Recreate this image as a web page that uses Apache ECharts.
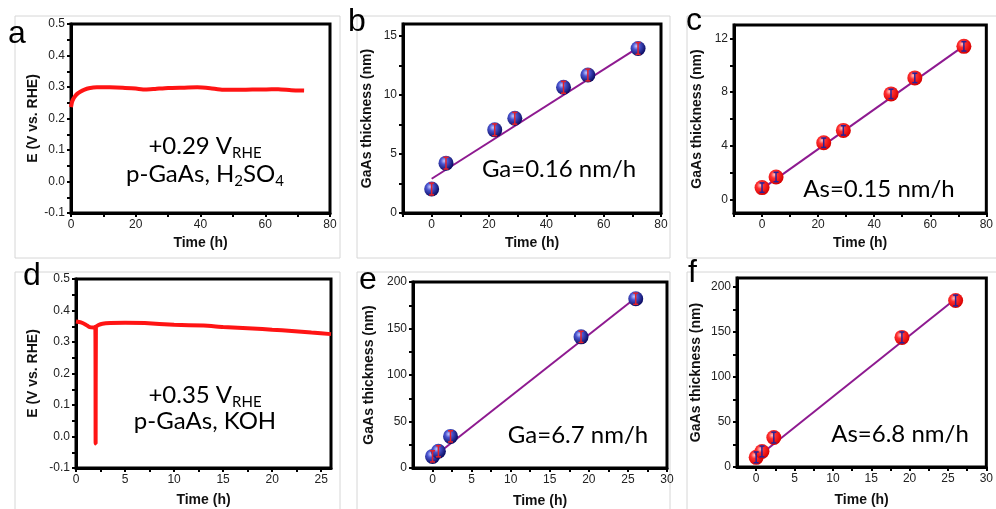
<!DOCTYPE html>
<html>
<head>
<meta charset="utf-8">
<script src="https://cdn.jsdelivr.net/npm/echarts@6/dist/echarts.min.js"></script>
<style>
  html, body { margin: 0; padding: 0; background: #fff; }
  #chart { width: 996px; height: 509px; }
</style>
</head>
<body>
<div id="chart"></div>
<script>
// ---- data ----
// a: potential vs time, H2SO4
var timeA = [0, 0.3, 0.7, 1.2, 2, 3, 4, 5.5, 8, 12, 16, 20, 23, 26, 30, 35, 39, 43, 47, 52, 56, 60, 64, 68, 72];
var potA = [0.236, 0.252, 0.262, 0.27, 0.279, 0.286, 0.291, 0.296, 0.299, 0.299, 0.298, 0.295, 0.292, 0.294, 0.297, 0.298, 0.299, 0.296, 0.291, 0.291, 0.292, 0.292, 0.293, 0.290, 0.289];
// d: potential vs time, KOH
var timeD = [0, 0.5, 1, 1.4, 1.8, 1.97, 2.0, 2.03, 2.3, 2.7, 3.5, 5, 7, 10, 13, 15, 18, 20, 22, 24, 26];
var potD = [0.365, 0.362, 0.355, 0.347, 0.346, 0.348, -0.022, 0.348, 0.354, 0.358, 0.36, 0.361, 0.36, 0.355, 0.352, 0.348, 0.343, 0.339, 0.335, 0.33, 0.325];

// b, c: thickness in H2SO4
var timeBC = [0, 5, 22, 29, 46, 54.5, 72];
var gaB = [2.03, 4.22, 7.04, 8.02, 10.64, 11.68, 13.93];
var gaBErr = [0.5, 0.5, 0.5, 0.5, 0.5, 0.5, 0.5];
var fitB = [[0, 2.9], [72, 14.0]];
var asC = [0.89, 1.68, 4.23, 5.15, 7.87, 9.06, 11.41];
var asCErr = [0.35, 0.35, 0.35, 0.35, 0.35, 0.35, 0.35];
var fitC = [[0, 0.8], [72, 11.45]];

// e, f: thickness in KOH
var timeEF = [0, 0.75, 2.3, 19, 26];
var gaE = [12.5, 18, 34, 141, 182];
var gaEErr = [6, 6, 6, 6, 6];
var fitE = [[0, 11], [26, 183]];
var asF = [10.7, 17.3, 32.7, 144, 185];
var asFErr = [6, 6, 6, 6, 6];
var fitF = [[0, 10], [26, 187]];

// tick labels / tick positions
var xLab80 = [0, 20, 40, 60, 80], xTick80 = [0, 10, 20, 30, 40, 50, 60, 70, 80];
var xLab80b = [0, 20, 40, 60, 80], xTick80b = [-10, 0, 10, 20, 30, 40, 50, 60, 70, 80];
var xLab25 = [0, 5, 10, 15, 20, 25], xTick25 = [0, 2.5, 5, 7.5, 10, 12.5, 15, 17.5, 20, 22.5, 25];
var xLab30 = [0, 5, 10, 15, 20, 25, 30], xTick30 = [0, 2.5, 5, 7.5, 10, 12.5, 15, 17.5, 20, 22.5, 25, 27.5, 30];
var yLabB = [0, 5, 10, 15], yTickB = [0, 2.5, 5, 7.5, 10, 12.5, 15];
var yLabC = [0, 4, 8, 12], yTickC = [0, 2, 4, 6, 8, 10, 12];
var yLab200 = [0, 50, 100, 150, 200], yTick200 = [0, 25, 50, 75, 100, 125, 150, 175, 200];

var chart = echarts.init(document.getElementById('chart'));

var FONT = "'Liberation Sans', Arial, sans-serif";
var ANNO = "Lato, 'Open Sans', sans-serif";

function zip(xs, ys) {
  return xs.map(function (x, i) { return [x, ys[i]]; });
}

function grid(left, top, width, height) {
  return { left: left, top: top, width: width, height: height, show: true, borderColor: '#000', borderWidth: 3, containLabel: false };
}

function axis(idx, min, max, labels, ticks, name, gap, isY) {
  return {
    type: 'value', gridIndex: idx, min: min, max: max,
    name: name, nameLocation: 'middle', nameGap: gap,
    nameRotate: isY ? 90 : 0,
    nameTextStyle: { fontFamily: FONT, fontWeight: 'bold', fontSize: 14, color: '#111' },
    axisLine: { show: true, onZero: false, lineStyle: { color: '#000', width: 3 } },
    axisTick: { show: true, customValues: ticks, length: 4, inside: false, lineStyle: { color: '#000', width: 2 } },
    axisLabel: { customValues: labels, margin: 6, fontFamily: FONT, fontSize: 12, color: '#222' },
    splitLine: { show: false }
  };
}
// potential axis: -0.1 .. 0.5, step 0.1 with one minor tick between
function potAxis(idx, gap) {
  return {
    type: 'value', gridIndex: idx, min: -0.1, max: 0.5, interval: 0.1,
    name: 'E (V vs. RHE)', nameLocation: 'middle', nameGap: gap, nameRotate: 90,
    nameTextStyle: { fontFamily: FONT, fontWeight: 'bold', fontSize: 14, color: '#111' },
    axisLine: { show: true, onZero: false, lineStyle: { color: '#000', width: 3 } },
    axisTick: { show: true, length: 4, lineStyle: { color: '#000', width: 2 } },
    minorTick: { show: true, splitNumber: 2, length: 4, lineStyle: { color: '#000', width: 2 } },
    axisLabel: {
      margin: 6, fontFamily: FONT, fontSize: 12, color: '#222',
      formatter: function (v) { return Number(v).toFixed(1); }
    },
    splitLine: { show: false }
  };
}

var blueBall = new echarts.graphic.RadialGradient(0.38, 0.35, 0.65, [
  { offset: 0, color: '#c4c8ff' },
  { offset: 0.35, color: '#4a55d0' },
  { offset: 1, color: '#0b0b62' }
]);
var redBall = new echarts.graphic.RadialGradient(0.38, 0.35, 0.65, [
  { offset: 0, color: '#ffc4c4' },
  { offset: 0.35, color: '#ff3030' },
  { offset: 1, color: '#d80000' }
]);

function potLine(idx, xs, ys) {
  return {
    type: 'line', xAxisIndex: idx, yAxisIndex: idx, data: zip(xs, ys),
    showSymbol: false, smooth: 0.2, lineStyle: { color: '#ff1414', width: 4 }, z: 3
  };
}
function fitLine(idx, pts) {
  return {
    type: 'line', xAxisIndex: idx, yAxisIndex: idx, data: pts,
    showSymbol: false, lineStyle: { color: '#8e1a90', width: 2 }, z: 2
  };
}
function balls(idx, xs, ys, fill) {
  return {
    type: 'scatter', xAxisIndex: idx, yAxisIndex: idx, data: zip(xs, ys),
    symbolSize: 15, itemStyle: { color: fill, opacity: 1 }, z: 4
  };
}
function errBars(idx, xs, ys, errs, color) {
  return {
    type: 'custom', xAxisIndex: idx, yAxisIndex: idx, z: 6,
    data: xs.map(function (x, i) { return [x, ys[i] - errs[i], ys[i] + errs[i]]; }),
    encode: { x: 0, y: [1, 2] },
    renderItem: function (params, api) {
      var lo = api.coord([api.value(0), api.value(1)]);
      var hi = api.coord([api.value(0), api.value(2)]);
      var st = { stroke: color, lineWidth: 1.5 };
      return {
        type: 'group', children: [
          { type: 'line', shape: { x1: lo[0], y1: lo[1], x2: hi[0], y2: hi[1] }, style: st },
          { type: 'line', shape: { x1: hi[0] - 2.5, y1: hi[1], x2: hi[0] + 2.5, y2: hi[1] }, style: st },
          { type: 'line', shape: { x1: lo[0] - 2.5, y1: lo[1], x2: lo[0] + 2.5, y2: lo[1] }, style: st }
        ]
      };
    }
  };
}

function frame(x, y, w, h) {
  return { type: 'rect', shape: { x: x, y: y, width: w, height: h }, silent: true, z: -1,
    style: { fill: 'none', stroke: '#d6d6d6', lineWidth: 1 } };
}
function letter(t, x, y) {
  return { type: 'text', x: x, y: y, z: 10,
    style: { text: t, font: "32px 'Liberation Sans', Arial, sans-serif", fill: '#000', textAlign: 'left', textVerticalAlign: 'top' } };
}
var rich = {
  m: { fontFamily: ANNO, fontSize: 24, lineHeight: 26, color: '#000' },
  s: { fontFamily: ANNO, fontSize: 15, lineHeight: 30, verticalAlign: 'bottom', color: '#000' }
};
function anno(t, x, y) {
  return { type: 'text', x: x, y: y, z: 10,
    style: { text: t, rich: rich, textAlign: 'center', textVerticalAlign: 'middle' } };
}

var option = {
  animation: false,
  backgroundColor: '#fff',
  grid: [
    grid(71, 24, 259, 189),
    grid(403, 24, 258, 189),
    grid(734, 25, 256, 188),
    grid(76, 279, 255, 189),
    grid(413, 282, 254, 187),
    grid(737, 278, 264, 189)
  ],
  xAxis: [
    axis(0, 0, 80, xLab80, xTick80, 'Time (h)', 23, false),
    axis(1, -10, 80, xLab80b, xTick80b, 'Time (h)', 23, false),
    axis(2, -10, 80, xLab80b, xTick80b, 'Time (h)', 23, false),
    axis(3, 0, 26, xLab25, xTick25, 'Time (h)', 25, false),
    axis(4, -2.5, 30, xLab30, xTick30, 'Time (h)', 26, false),
    axis(5, -2.5, 30, xLab30, xTick30, 'Time (h)', 26, false)
  ],
  yAxis: [
    potAxis(0, 31),
    axis(1, 0, 16, yLabB, yTickB, 'GaAs thickness (nm)', 29, true),
    axis(2, -1, 13, yLabC, yTickC, 'GaAs thickness (nm)', 30, true),
    potAxis(3, 36),
    axis(4, 0, 200, yLab200, yTick200, 'GaAs thickness (nm)', 37, true),
    axis(5, 0, 210, yLab200, yTick200, 'GaAs thickness (nm)', 34, true)
  ],
  series: [
    potLine(0, timeA, potA),
    fitLine(1, fitB), balls(1, timeBC, gaB, blueBall), errBars(1, timeBC, gaB, gaBErr, '#e3202a'),
    fitLine(2, fitC), balls(2, timeBC, asC, redBall), errBars(2, timeBC, asC, asCErr, '#23239a'),
    potLine(3, timeD, potD),
    fitLine(4, fitE), balls(4, timeEF, gaE, blueBall), errBars(4, timeEF, gaE, gaEErr, '#e3202a'),
    fitLine(5, fitF), balls(5, timeEF, asF, redBall), errBars(5, timeEF, asF, asFErr, '#23239a')
  ],
  graphic: [
    frame(15, 16, 325, 242), frame(357, 16, 313, 242), frame(687, 16, 320, 242),
    frame(15, 272, 325, 250), frame(357, 272, 313, 250), frame(687, 272, 320, 250),
    letter('a', 8, 18), letter('b', 348, 6), letter('c', 686, 5),
    letter('d', 23, 260), letter('e', 359, 264), letter('f', 688, 257),
    anno('{m|+0.29 V}{s|RHE}', 205, 146),
    anno('{m|p-GaAs, H}{s|2}{m|SO}{s|4}', 205, 174),
    anno('{m|+0.35 V}{s|RHE}', 205, 395),
    anno('{m|p-GaAs, KOH}', 205, 421),
    anno('{m|Ga=0.16 nm/h}', 559, 169),
    anno('{m|As=0.15 nm/h}', 879, 189),
    anno('{m|Ga=6.7 nm/h}', 578, 435),
    anno('{m|As=6.8 nm/h}', 900, 434)
  ]
};

chart.setOption(option);
</script>
</body>
</html>
